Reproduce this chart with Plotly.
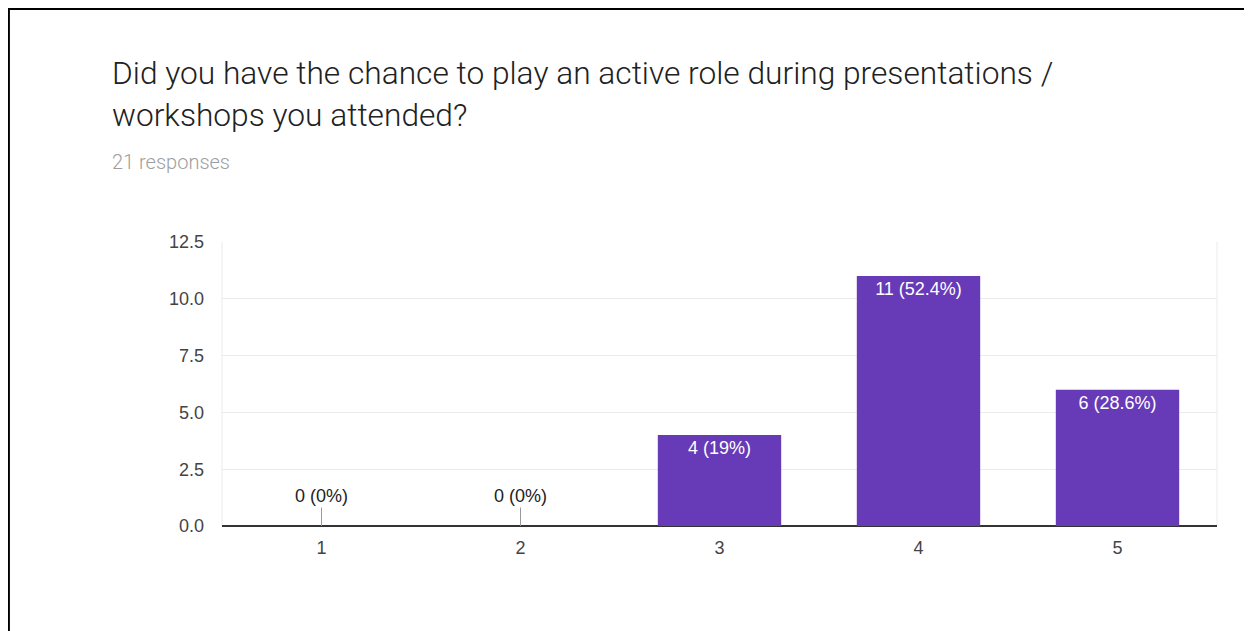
import plotly.graph_objects as go

categories = ["1", "2", "3", "4", "5"]
counts = [0, 0, 4, 11, 6]
total = 21
y_ticks = [0, 2.5, 5, 7.5, 10, 12.5]
y_tick_labels = ["0.0", "2.5", "5.0", "7.5", "10.0", "12.5"]
title_lines = ["Did you have the chance to play an active role during presentations /",
               "workshops you attended?"]
subtitle = "21 responses"

def pct(c):
    p = round(c / total * 100, 1)
    return f"{int(p)}%" if p == int(p) else f"{p}%"

labels = [f"{c} ({pct(c)})" for c in counts]

# page body has an 8px margin: work in reference pixels, shifted by OFF
OFF = 8
W, H = 1252 - OFF, 631 - OFF
L, R, T, B = 222 - OFF, 35, 242 - OFF, 105
pw, ph = W - L - R, H - T - B

def px_x(px):
    return (px - OFF - L) / pw

def px_y(py):
    return (H - B - (py - OFF)) / ph

fig = go.Figure()
fig.add_trace(go.Bar(
    x=categories, y=counts,
    text=[lab if c > 0 else "" for lab, c in zip(labels, counts)],
    textposition="inside", insidetextanchor="end",
    textfont=dict(family="Liberation Sans, Arial", size=18, color="white"),
    textangle=0,
    marker=dict(color="#673ab7", line=dict(width=0)),
    width=0.62,
    hoverinfo="skip",
))

annotations = []
for i, (c, lab) in enumerate(zip(counts, labels)):
    if c == 0:
        annotations.append(dict(
            x=i, y=c, xref="x", yref="y", text=lab,
            showarrow=True, arrowhead=0, arrowwidth=1, arrowcolor="#999999",
            ax=0, ay=-30, standoff=0,
            font=dict(family="Liberation Sans, Arial", size=18, color="#222222"),
        ))

title_font = dict(family="Roboto", size=31.7, color="#212121", weight=300)
annotations.append(dict(xref="paper", yref="paper", x=px_x(110), y=px_y(73),
                        xanchor="left", yanchor="middle", showarrow=False,
                        text=title_lines[0], font=title_font))
annotations.append(dict(xref="paper", yref="paper", x=px_x(110), y=px_y(116),
                        xanchor="left", yanchor="middle", showarrow=False,
                        text=title_lines[1], font=title_font))
annotations.append(dict(xref="paper", yref="paper", x=px_x(110), y=px_y(162),
                        xanchor="left", yanchor="middle", showarrow=False,
                        text=subtitle,
                        font=dict(family="Roboto", size=20, color="#9e9e9e", weight=300)))

shapes = [
    dict(type="line", xref="paper", yref="paper", x0=px_x(0), x1=px_x(1252),
         y0=px_y(8.9), y1=px_y(8.9), line=dict(color="black", width=2)),
    dict(type="line", xref="paper", yref="paper", x0=px_x(8.9), x1=px_x(8.9),
         y0=px_y(8.0), y1=px_y(631), line=dict(color="black", width=2)),
    dict(type="line", xref="paper", yref="paper", x0=0, x1=0, y0=0, y1=1,
         line=dict(color="#ebebeb", width=1), layer="below"),
    dict(type="line", xref="paper", yref="paper", x0=1, x1=1, y0=0, y1=1,
         line=dict(color="#ebebeb", width=1), layer="below"),
]

fig.update_layout(
    width=W, height=H,
    margin=dict(l=L, r=R, t=T, b=B, autoexpand=False),
    paper_bgcolor="white", plot_bgcolor="white",
    showlegend=False,
    annotations=annotations,
    shapes=shapes,
    xaxis=dict(type="category", showgrid=False, showline=False, zeroline=False,
               ticks="", tickfont=dict(family="Liberation Sans, Arial", size=18, color="#444444"),
               ticklabelstandoff=9),
    yaxis=dict(range=[0, 12.5], tickvals=y_ticks, ticktext=y_tick_labels,
               showgrid=True, gridcolor="#ebebeb", gridwidth=1,
               zeroline=True, zerolinecolor="#333333", zerolinewidth=2,
               showline=False, ticks="",
               tickfont=dict(family="Liberation Sans, Arial", size=18, color="#444444"),
               ticklabelstandoff=17),
    bargap=0.38,
)

fig.write_html("out.html")
